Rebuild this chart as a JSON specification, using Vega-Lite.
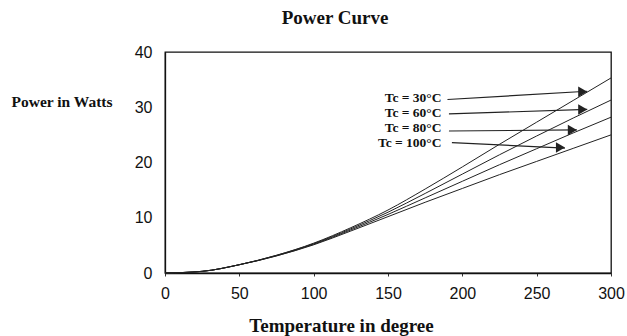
{
  "$schema": "https://vega.github.io/schema/vega-lite/v6.json",
  "width": 446,
  "height": 221,
  "autosize": {"type": "none"},
  "padding": {"left": 165, "top": 52, "right": 16, "bottom": 63},
  "background": "white",
  "config": {"view": {"stroke": "#111", "strokeWidth": 1.3}},
  "title": {"text": "Power Curve", "font": "Liberation Serif", "fontSize": 19, "fontWeight": "bold", "color": "#111", "anchor": "middle", "frame": "group", "dx": -53, "offset": 16},
  "datasets": {
    "curves": [
      {"temp": 0, "power": 0, "series": "Tc = 30°C"},
      {"temp": 25, "power": 0.3, "series": "Tc = 30°C"},
      {"temp": 50, "power": 1.5, "series": "Tc = 30°C"},
      {"temp": 75, "power": 3.2, "series": "Tc = 30°C"},
      {"temp": 100, "power": 5.4, "series": "Tc = 30°C"},
      {"temp": 125, "power": 8.2, "series": "Tc = 30°C"},
      {"temp": 150, "power": 11.4, "series": "Tc = 30°C"},
      {"temp": 175, "power": 15.2, "series": "Tc = 30°C"},
      {"temp": 200, "power": 19.2, "series": "Tc = 30°C"},
      {"temp": 225, "power": 23.3, "series": "Tc = 30°C"},
      {"temp": 250, "power": 27.3, "series": "Tc = 30°C"},
      {"temp": 275, "power": 31.3, "series": "Tc = 30°C"},
      {"temp": 300, "power": 35.3, "series": "Tc = 30°C"},
      {"temp": 0, "power": 0, "series": "Tc = 60°C"},
      {"temp": 25, "power": 0.3, "series": "Tc = 60°C"},
      {"temp": 50, "power": 1.5, "series": "Tc = 60°C"},
      {"temp": 75, "power": 3.2, "series": "Tc = 60°C"},
      {"temp": 100, "power": 5.3, "series": "Tc = 60°C"},
      {"temp": 125, "power": 8.0, "series": "Tc = 60°C"},
      {"temp": 150, "power": 11.0, "series": "Tc = 60°C"},
      {"temp": 175, "power": 14.4, "series": "Tc = 60°C"},
      {"temp": 200, "power": 17.9, "series": "Tc = 60°C"},
      {"temp": 225, "power": 21.4, "series": "Tc = 60°C"},
      {"temp": 250, "power": 24.8, "series": "Tc = 60°C"},
      {"temp": 275, "power": 28.1, "series": "Tc = 60°C"},
      {"temp": 300, "power": 31.3, "series": "Tc = 60°C"},
      {"temp": 0, "power": 0, "series": "Tc = 80°C"},
      {"temp": 25, "power": 0.3, "series": "Tc = 80°C"},
      {"temp": 50, "power": 1.5, "series": "Tc = 80°C"},
      {"temp": 75, "power": 3.1, "series": "Tc = 80°C"},
      {"temp": 100, "power": 5.2, "series": "Tc = 80°C"},
      {"temp": 125, "power": 7.8, "series": "Tc = 80°C"},
      {"temp": 150, "power": 10.6, "series": "Tc = 80°C"},
      {"temp": 175, "power": 13.6, "series": "Tc = 80°C"},
      {"temp": 200, "power": 16.6, "series": "Tc = 80°C"},
      {"temp": 225, "power": 19.6, "series": "Tc = 80°C"},
      {"temp": 250, "power": 22.5, "series": "Tc = 80°C"},
      {"temp": 275, "power": 25.4, "series": "Tc = 80°C"},
      {"temp": 300, "power": 28.2, "series": "Tc = 80°C"},
      {"temp": 0, "power": 0, "series": "Tc = 100°C"},
      {"temp": 25, "power": 0.3, "series": "Tc = 100°C"},
      {"temp": 50, "power": 1.5, "series": "Tc = 100°C"},
      {"temp": 75, "power": 3.1, "series": "Tc = 100°C"},
      {"temp": 100, "power": 5.1, "series": "Tc = 100°C"},
      {"temp": 125, "power": 7.6, "series": "Tc = 100°C"},
      {"temp": 150, "power": 10.2, "series": "Tc = 100°C"},
      {"temp": 175, "power": 12.8, "series": "Tc = 100°C"},
      {"temp": 200, "power": 15.3, "series": "Tc = 100°C"},
      {"temp": 225, "power": 17.8, "series": "Tc = 100°C"},
      {"temp": 250, "power": 20.2, "series": "Tc = 100°C"},
      {"temp": 275, "power": 22.6, "series": "Tc = 100°C"},
      {"temp": 300, "power": 25.0, "series": "Tc = 100°C"}
    ],
    "labels": [
      {"series": "Tc = 30°C", "lx": 186, "ly": 31.6, "x1": 190, "y1": 31.4, "x2": 284, "y2": 32.9, "hx": 281, "hy": 32.8},
      {"series": "Tc = 60°C", "lx": 186, "ly": 29.0, "x1": 191, "y1": 28.8, "x2": 284, "y2": 29.6, "hx": 281, "hy": 29.6},
      {"series": "Tc = 80°C", "lx": 186, "ly": 26.3, "x1": 191, "y1": 25.7, "x2": 277, "y2": 25.9, "hx": 274, "hy": 25.9},
      {"series": "Tc = 100°C", "lx": 186, "ly": 23.6, "x1": 193, "y1": 23.6, "x2": 269, "y2": 22.6, "hx": 266, "hy": 22.7}
    ]
  },
  "layer": [
    {
      "data": {"name": "curves"},
      "mark": {"type": "line", "color": "#222", "strokeWidth": 1, "interpolate": "monotone"},
      "encoding": {
        "x": {"field": "temp", "type": "quantitative", "scale": {"domain": [0, 300], "nice": false},
          "axis": {"values": [0, 50, 100, 150, 200, 250, 300], "grid": false, "ticks": true, "tickSize": 3, "tickColor": "#333", "domainColor": "#111", "domainWidth": 1.3,
            "labelFont": "Liberation Sans", "labelFontSize": 16, "labelColor": "#111", "labelPadding": 9, "labelFlush": false,
            "title": "Temperature in degree", "titleFont": "Liberation Serif", "titleFontSize": 19, "titleFontWeight": "bold", "titleColor": "#111",
            "titleX": 176, "titleY": 52, "titleBaseline": "middle", "titleAnchor": null}},
        "y": {"field": "power", "type": "quantitative", "scale": {"domain": [0, 40], "nice": false},
          "axis": {"values": [0, 10, 20, 30, 40], "grid": false, "ticks": false, "domainColor": "#111", "domainWidth": 1.3,
            "labelFont": "Liberation Sans", "labelFontSize": 16, "labelColor": "#111", "labelPadding": 13,
            "title": "Power in Watts", "titleFont": "Liberation Serif", "titleFontSize": 15.5, "titleFontWeight": "bold", "titleColor": "#111",
            "titleAngle": 0, "titleAlign": "left", "titleBaseline": "middle", "titleX": -154, "titleY": 49}},
        "detail": {"field": "series", "type": "nominal"}
      }
    },
    {
      "data": {"name": "labels"},
      "mark": {"type": "rule", "color": "#222", "strokeWidth": 1.2},
      "encoding": {
        "x": {"field": "x1", "type": "quantitative"},
        "y": {"field": "y1", "type": "quantitative"},
        "x2": {"field": "x2"},
        "y2": {"field": "y2"}
      }
    },
    {
      "data": {"name": "labels"},
      "mark": {"type": "point", "shape": "triangle-right", "filled": true, "color": "#222", "size": 110, "opacity": 1},
      "encoding": {
        "x": {"field": "hx", "type": "quantitative"},
        "y": {"field": "hy", "type": "quantitative"}
      }
    },
    {
      "data": {"name": "labels"},
      "mark": {"type": "text", "align": "right", "baseline": "middle", "font": "Liberation Serif", "fontSize": 13.5, "fontWeight": "bold", "color": "#111"},
      "encoding": {
        "x": {"field": "lx", "type": "quantitative"},
        "y": {"field": "ly", "type": "quantitative"},
        "text": {"field": "series", "type": "nominal"}
      }
    }
  ]
}
